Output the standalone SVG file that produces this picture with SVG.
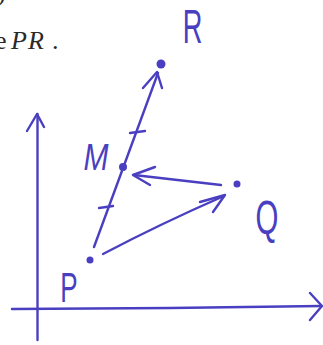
<svg xmlns="http://www.w3.org/2000/svg" width="323" height="345" viewBox="0 0 323 345">
<style>
.ink{fill:none;stroke:#4a3fc0;stroke-width:2.4;stroke-linecap:round;stroke-linejoin:round}
.dot{fill:#4a3fc0}
.lbl{font-family:"Liberation Sans",Arial,sans-serif;fill:#4a3fc0;text-anchor:middle}
.print{font-family:"Liberation Serif","Times New Roman",serif;font-size:26px;fill:#2a2a2a}
</style>
<rect width="323" height="345" fill="#ffffff"/>
<g id="printed">
<text class="print" x="-3" y="1">)</text>
<text class="print" x="-5" y="49">e</text>
<text class="print" x="11" y="49" font-style="italic" letter-spacing="1">PR</text>
<text class="print" x="52" y="49">.</text>
</g>
<g id="axes">
<path class="ink" d="M37.5,340 L37.5,114"/>
<path class="ink" d="M27,131 L37,114 L44,127"/>
<path class="ink" d="M12,309 L170,308 L321,306"/>
<path class="ink" d="M310,293 L322,306 L310,320"/>
</g>
<g id="connectors">
<path class="ink" d="M94,247 L158,73"/>
<path class="ink" d="M143,88 L157,72 L162,88"/>
<path class="ink" d="M130,133 L145,131"/>
<path class="ink" d="M99,208 L113,206"/>
<path class="ink" d="M221,185 L134,175"/>
<path class="ink" d="M155,167 L133,175 L150,185"/>
<path class="ink" d="M103,254 Q160,224 224,196"/>
<path class="ink" d="M200,202 L225,195 L213,212"/>
</g>
<g id="node-R">
<circle class="dot" cx="161" cy="64" r="4.5"/>
<text class="lbl" font-size="32" transform="translate(192.5,43) scale(0.85,1.5)">R</text>
</g>
<g id="node-M">
<circle class="dot" cx="123" cy="167" r="4"/>
<text class="lbl" font-size="30" font-style="italic" transform="translate(96,170) scale(1,1.25)">M</text>
</g>
<g id="node-Q">
<circle class="dot" cx="237" cy="184" r="3.5"/>
<text class="lbl" font-size="28" transform="translate(267,234) scale(1.05,1.7)">Q</text>
</g>
<g id="node-P">
<circle class="dot" cx="90" cy="260" r="3.5"/>
<text class="lbl" font-size="26" transform="translate(69,302) scale(1,1.6)">P</text>
</g>
</svg>
